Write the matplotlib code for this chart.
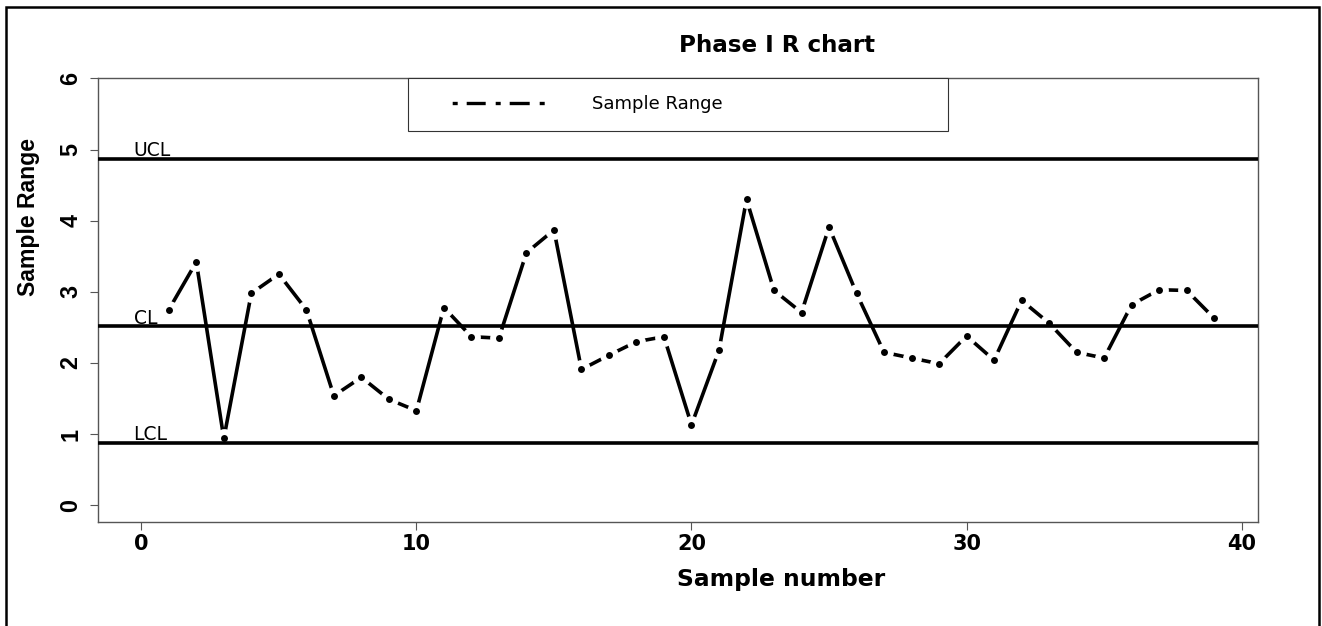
import matplotlib
matplotlib.use("Agg")
import matplotlib.pyplot as plt
from matplotlib.lines import Line2D
from matplotlib.patches import Rectangle
import numpy as np

plt.rcParams["lines.scale_dashes"] = False

# Phase I sample ranges for 39 subgroups
sample_no = list(range(1, 40))
sample_range = [2.75, 3.42, 0.94, 2.98, 3.25, 2.75, 1.54, 1.80, 1.49, 1.33,
                2.78, 2.37, 2.35, 3.55, 3.87, 1.91, 2.11, 2.30, 2.37, 1.13,
                2.18, 4.30, 3.02, 2.71, 3.91, 2.98, 2.15, 2.07, 1.99, 2.38,
                2.04, 2.88, 2.56, 2.15, 2.07, 2.82, 3.03, 3.02, 2.63]

# Control limits
ucl = 4.87
cl = 2.52
lcl = 0.88
limit_names = ["UCL", "CL", "LCL"]
limit_values = [ucl, cl, lcl]

x_ticks = [0, 10, 20, 30, 40]
y_ticks = [0, 1, 2, 3, 4, 5, 6]

W, H = 1322, 626
fig = plt.figure(figsize=(W / 100, H / 100), dpi=100)
ax = fig.add_axes([98.3 / W, 1 - 522 / H, (1257.5 - 98.3) / W, (522 - 77.7) / H])

# line with gaps around the points, then the points themselves
ax.plot(sample_no, sample_range, color="black", lw=2.6, zorder=2)
ax.plot(sample_no, sample_range, "o", ms=13.5, mfc="white", mec="none", zorder=2.5)
for name, val in zip(limit_names, limit_values):
    ax.axhline(val, color="black", lw=2.6, zorder=3)
    ax.text(-0.28, val + 0.035, name, ha="left", va="baseline",
            fontsize=13.5, family="DejaVu Sans", zorder=3)
ax.plot(sample_no, sample_range, "o", ms=5.0, color="black", mec="none", zorder=4)

ax.set_xlim(-1.563, 40.575)
ax.set_ylim(-0.234, 6.01)
ax.set_xticks(x_ticks)
ax.set_yticks(y_ticks)
ax.set_xticklabels([str(t) for t in x_ticks], fontsize=15,
                   family="DejaVu Sans", fontweight="bold")
ax.set_yticklabels([str(t) for t in y_ticks], fontsize=16.8,
                   family="Liberation Sans", fontweight="bold",
                   rotation=90, va="center")
ax.tick_params(axis="both", direction="out", length=5.8, width=0.8, color="#555555")
ax.tick_params(axis="x", pad=3)
ax.tick_params(axis="y", pad=5.5)
for sp in ax.spines.values():
    sp.set_color("#555555")
    sp.set_linewidth(1.0)

ax.set_title("Phase I R chart", x=(777 - 98.3) / 1159.2, y=(522 - 45) / 444.3,
             pad=0, va="center", fontsize=16.6, family="DejaVu Sans",
             fontweight="bold")
ax.set_xlabel("Sample number", fontsize=16.8, family="DejaVu Sans",
              fontweight="bold", va="baseline")
ax.xaxis.set_label_coords((781.5 - 98.3) / 1159.2, (522 - 585.7) / 444.3)
ax.set_ylabel("Sample Range", fontsize=16.6, family="Liberation Sans",
              fontweight="bold", va="center", ha="center")
ax.yaxis.set_label_coords((29 - 98.3) / 1159.2, (522 - 217.5) / 444.3)

# legend sample: dot-dash pattern
px = 0.72
pattern = [5 * px, 9 * px, 19 * px, 10 * px, 5 * px, 9 * px, 20 * px, 10 * px, 5 * px, 300 * px]
offset = sum(pattern) - 26.2 * px
handle = Line2D([], [], color="black", lw=2.4, linestyle=(offset, pattern))
leg = ax.legend([handle], ["Sample Range"], loc="upper left",
                bbox_to_anchor=((407.9 - 98.3) / 1159.2, (522 - 131) / 444.3,
                                (948.2 - 407.9) / 1159.2, (131 - 77.7) / 444.3),
                mode="expand", borderaxespad=0, borderpad=0.98,
                handlelength=7.0, handletextpad=2.2, numpoints=1,
                prop={"family": "DejaVu Sans", "size": 13},
                fancybox=False, framealpha=1, edgecolor="#333333")
leg.get_frame().set_linewidth(0.8)
leg.set_zorder(5)

# outer frame of the figure
fig.add_artist(Rectangle((5.5 / W, -0.05), (1319 - 5.5) / W, 1 - 6.7 / H + 0.05,
                         transform=fig.transFigure, fill=False, ec="black",
                         lw=1.8, clip_on=False))

fig.savefig("out.png", dpi=100)
